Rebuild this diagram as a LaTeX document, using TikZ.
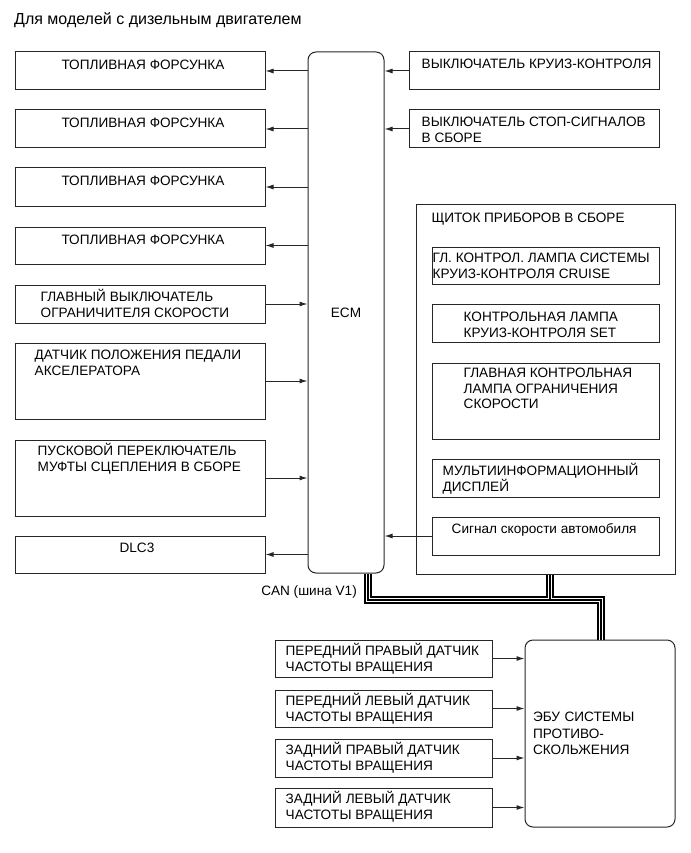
\documentclass[tikz,border=0pt]{standalone}
\usepackage{fontspec}
\setmainfont{Liberation Sans}
\usetikzlibrary{arrows.meta}
\newcommand{\lblfont}{\fontsize{13.6}{15.7}\selectfont}
\newcommand{\tp}{\rule{0pt}{12.5pt}}

\begin{document}
\begin{tikzpicture}[x=1pt, y=-1pt]
    % Define styles for boxes, texts and arrows
    \tikzstyle{box} = [draw=black!85, rectangle, line width=1pt, inner sep=0pt, font=\lblfont]
    \tikzstyle{unit} = [box, rounded corners=8pt]
    \tikzstyle{txt} = [inner sep=0pt, align=left, anchor=north west, font=\lblfont]
    \tikzstyle{ctxt} = [inner sep=0pt, align=center, anchor=north, font=\lblfont]
    \tikzstyle{arr} = [-{Latex[length=8pt, width=5pt]}, line width=1pt, black!85]
    \tikzstyle{bus} = [line width=1.4pt, preaction={draw, line width=7.5pt}, preaction={draw, white, line width=4.6pt}]

    \useasboundingbox (0,0) rectangle (690,853);

    % Title
    \node[anchor=base west, inner sep=0pt, font=\fontsize{16}{19}\selectfont] (title) at (14, 25) {Для моделей с дизельным двигателем};

    % ECM
    \node[unit, minimum width=76pt, minimum height=521pt] (ecm) at (346, 312.5) {ECM};

    % Left column
    \node[box, minimum width=250pt, minimum height=38pt, label={[ctxt, xshift=3pt, yshift=-5.2pt]north:{\tp ТОПЛИВНАЯ ФОРСУНКА}}] (inj1) at (140, 71) {};
    \node[box, minimum width=250pt, minimum height=38pt, label={[ctxt, xshift=3pt, yshift=-5.2pt]north:{\tp ТОПЛИВНАЯ ФОРСУНКА}}] (inj2) at (140, 129) {};
    \node[box, minimum width=250pt, minimum height=38pt, label={[ctxt, xshift=3pt, yshift=-5.2pt]north:{\tp ТОПЛИВНАЯ ФОРСУНКА}}] (inj3) at (140, 187) {};
    \node[box, minimum width=250pt, minimum height=37pt, label={[ctxt, xshift=3pt, yshift=-5.2pt]north:{\tp ТОПЛИВНАЯ ФОРСУНКА}}] (inj4) at (140, 245.5) {};
    \node[box, minimum width=250pt, minimum height=38pt, label={[txt, xshift=26pt, yshift=-4.2pt]north west:{\tp ГЛАВНЫЙ ВЫКЛЮЧАТЕЛЬ\\ОГРАНИЧИТЕЛЯ СКОРОСТИ}}] (limsw) at (140, 304) {};
    \node[box, minimum width=250pt, minimum height=76pt, label={[txt, xshift=20pt, yshift=-4.2pt]north west:{\tp ДАТЧИК ПОЛОЖЕНИЯ ПЕДАЛИ\\АКСЕЛЕРАТОРА}}] (accel) at (140, 381) {};
    \node[box, minimum width=250pt, minimum height=76pt, label={[txt, xshift=23pt, yshift=-3.2pt]north west:{\tp ПУСКОВОЙ ПЕРЕКЛЮЧАТЕЛЬ\\МУФТЫ СЦЕПЛЕНИЯ В СБОРЕ}}] (clutch) at (140, 478) {};
    \node[box, minimum width=250pt, minimum height=37pt, label={[ctxt, xshift=-3pt, yshift=-4.2pt]north:{\tp DLC3}}] (dlc) at (140, 554.5) {};

    % Right column
    \node[box, minimum width=250pt, minimum height=38pt, label={[txt, xshift=13pt, yshift=-4.2pt]north west:{\tp ВЫКЛЮЧАТЕЛЬ КРУИЗ-КОНТРОЛЯ}}] (cruise) at (534, 71) {};
    \node[box, minimum width=250pt, minimum height=38pt, label={[txt, xshift=13pt, yshift=-4.2pt]north west:{\tp ВЫКЛЮЧАТЕЛЬ СТОП-СИГНАЛОВ\\В СБОРЕ}}] (stop) at (534, 129) {};

    % Instrument cluster
    \node[box, minimum width=259pt, minimum height=370pt, label={[txt, xshift=16pt, yshift=-6.2pt]north west:{\tp ЩИТОК ПРИБОРОВ В СБОРЕ}}] (meter) at (545.5, 389) {};
    \node[box, minimum width=227pt, minimum height=37pt, label={[txt, xshift=1pt, yshift=-3.2pt]north west:{\tp ГЛ. КОНТРОЛ. ЛАМПА СИСТЕМЫ\\КРУИЗ-КОНТРОЛЯ CRUISE}}] (lamp1) at (545.5, 265.5) {};
    \node[box, minimum width=227pt, minimum height=38pt, label={[txt, xshift=32pt, yshift=-5.2pt]north west:{\tp КОНТРОЛЬНАЯ ЛАМПА\\КРУИЗ-КОНТРОЛЯ SET}}] (lamp2) at (545.5, 323) {};
    \node[box, minimum width=227pt, minimum height=76pt, label={[txt, xshift=32pt, yshift=-2.2pt]north west:{\tp ГЛАВНАЯ КОНТРОЛЬНАЯ\\ЛАМПА ОГРАНИЧЕНИЯ\\СКОРОСТИ}}] (lamp3) at (545.5, 401) {};
    \node[box, minimum width=227pt, minimum height=38pt, label={[txt, xshift=11pt, yshift=-4.2pt]north west:{\tp МУЛЬТИИНФОРМАЦИОННЫЙ\\ДИСПЛЕЙ}}] (mid) at (545.5, 478) {};
    \node[box, minimum width=227pt, minimum height=38pt, label={[txt, xshift=20pt, yshift=-4.2pt]north west:{\tp Сигнал скорости автомобиля}}] (spd) at (545.5, 536) {};

    % Skid control ECU and speed sensors
    \node[unit, minimum width=150pt, minimum height=187pt, text width=134pt, inner xsep=8pt, align=left] (abs) at (600, 733.5) {ЭБУ СИСТЕМЫ\\[1pt]ПРОТИВО-\\[1pt]СКОЛЬЖЕНИЯ};
    \node[box, minimum width=217pt, minimum height=37pt, label={[txt, xshift=11pt, yshift=-3.2pt]north west:{\tp ПЕРЕДНИЙ ПРАВЫЙ ДАТЧИК\\ЧАСТОТЫ ВРАЩЕНИЯ}}] (fr) at (383.5, 658.5) {};
    \node[box, minimum width=217pt, minimum height=37pt, label={[txt, xshift=11pt, yshift=-3.2pt]north west:{\tp ПЕРЕДНИЙ ЛЕВЫЙ ДАТЧИК\\ЧАСТОТЫ ВРАЩЕНИЯ}}] (fl) at (383.5, 708.5) {};
    \node[box, minimum width=217pt, minimum height=38pt, label={[txt, xshift=11pt, yshift=-3.2pt]north west:{\tp ЗАДНИЙ ПРАВЫЙ ДАТЧИК\\ЧАСТОТЫ ВРАЩЕНИЯ}}] (rr) at (383.5, 758) {};
    \node[box, minimum width=217pt, minimum height=39pt, label={[txt, xshift=11pt, yshift=-3.2pt]north west:{\tp ЗАДНИЙ ЛЕВЫЙ ДАТЧИК\\ЧАСТОТЫ ВРАЩЕНИЯ}}] (rl) at (383.5, 807.5) {};

    % CAN bus
    \coordinate (canA) at (368, 600);
    \coordinate (canB) at (601, 600);
    \coordinate (canC) at (550, 600);
    \node[anchor=east, inner sep=0pt, font=\lblfont] (canlbl) at (357, 592) {CAN (шина V1)};
    \draw[bus] (canA |- ecm.south) -- (canA) -- (canB) -- (canB |- abs.north)
               (canC |- meter.south) -- (canC);

    % Arrows
    \draw[arr] (ecm.west |- inj1.east) -- (inj1.east);
    \draw[arr] (ecm.west |- inj2.east) -- (inj2.east);
    \draw[arr] (ecm.west |- inj3.east) -- (inj3.east);
    \draw[arr] (ecm.west |- inj4.east) -- (inj4.east);
    \draw[arr] (limsw.east) -- (ecm.west |- limsw.east);
    \draw[arr] (accel.east) -- (ecm.west |- accel.east);
    \draw[arr] (clutch.east) -- (ecm.west |- clutch.east);
    \draw[arr] (ecm.west |- dlc.east) -- (dlc.east);
    \draw[arr] (cruise.west) -- (ecm.east |- cruise.west);
    \draw[arr] (stop.west) -- (ecm.east |- stop.west);
    \draw[arr] (spd.west) -- (ecm.east |- spd.west);
    \draw[arr] (fr.east) -- (abs.west |- fr.east);
    \draw[arr] (fl.east) -- (abs.west |- fl.east);
    \draw[arr] (rr.east) -- (abs.west |- rr.east);
    \draw[arr] (rl.east) -- (abs.west |- rl.east);
\end{tikzpicture}
\end{document}
